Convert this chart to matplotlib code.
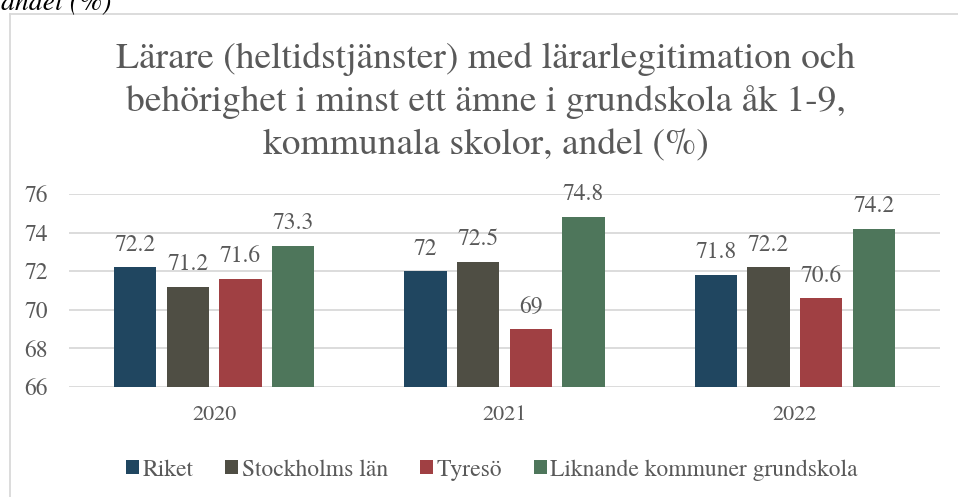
import numpy as np
import matplotlib
matplotlib.use("Agg")
import matplotlib.pyplot as plt
from matplotlib.lines import Line2D
from matplotlib.patches import Patch

years = ["2020", "2021", "2022"]
series_names = ["Riket", "Stockholms län", "Tyresö", "Liknande kommuner grundskola"]
riket = [72.2, 72.0, 71.8]
stockholm = [71.2, 72.5, 72.2]
tyreso = [71.6, 69.0, 70.6]
liknande = [73.3, 74.8, 74.2]
y_ticks = [66, 68, 70, 72, 74, 76]

colors = ["#204660", "#4f4e44", "#a04043", "#4e765b"]
text_col = "#595959"
grid_col = "#d9d9d9"

plt.rcParams["font.family"] = ["TeX Gyre Termes", "Liberation Serif", "DejaVu Serif"]

W, H = 958, 497
fig = plt.figure(figsize=(W / 100, H / 100), dpi=100)

# outer chart frame (only left and top edges visible in the crop)
fig.add_artist(Line2D([10 / W, 10 / W], [0, 1 - 14 / H], color=grid_col, lw=1.3,
                      transform=fig.transFigure))
fig.add_artist(Line2D([10 / W, 1], [1 - 14 / H, 1 - 14 / H], color=grid_col, lw=1.3,
                      transform=fig.transFigure))

# cut-off caption at the very top
fig.text(1 / W, 1 - 10 / H, "andel (%)", fontsize=20, style="italic", color="black",
         ha="left", va="baseline")

title_lines = ["Lärare (heltidstjänster) med lärarlegitimation och",
               "behörighet i minst ett ämne i grundskola åk 1-9,",
               "kommunala skolor, andel (%)"]
for line, base in zip(title_lines, [68, 111, 154]):
    fig.text(486 / W, 1 - base / H, line, fontsize=27, color=text_col,
             ha="center", va="baseline")

left, right, top, bottom = 69, 940, 194, 387
ax = fig.add_axes([left / W, 1 - bottom / H, (right - left) / W, (bottom - top) / H])

x = np.arange(len(years))
width = 0.145
step = 0.1815
all_series = [riket, stockholm, tyreso, liknande]
for i, (vals, name, c) in enumerate(zip(all_series, series_names, colors)):
    pos = x + (i - 1.5) * step
    ax.bar(pos, vals, width, color=c, label=name, zorder=3)
    for px, v in zip(pos, vals):
        lab = f"{v:g}"
        ax.annotate(lab, (px, v), xytext=(0, 12), textcoords="offset points",
                    ha="center", va="baseline", fontsize=17, color=text_col)

ax.set_xlim(-0.5, 2.5)
ax.set_ylim(66, 76)
ax.set_yticks(y_ticks)
ax.set_xticks(x)
ax.set_xticklabels(years)
ax.yaxis.grid(True, color=grid_col, lw=1.3, zorder=0)
ax.tick_params(axis="y", length=0, pad=15, labelsize=17, labelcolor=text_col)
ax.tick_params(axis="x", length=0, pad=13, labelsize=16, labelcolor=text_col)
for s in ax.spines.values():
    s.set_visible(False)
ax.set_facecolor("none")

handles = [Patch(facecolor=c, edgecolor="none") for c in colors]
fig.legend(handles, series_names, loc="center", bbox_to_anchor=(492 / W, 1 - 470 / H),
           ncol=4, frameon=False, fontsize=17, handlelength=0.55, handleheight=0.55,
           handletextpad=0.15, columnspacing=1.35, labelcolor=text_col)

fig.savefig("out.png", dpi=100)
